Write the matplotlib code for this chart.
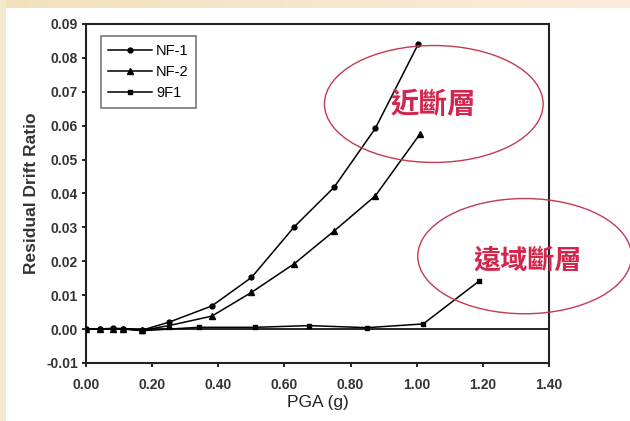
import matplotlib.pyplot as plt
import numpy as np
from matplotlib.patches import Ellipse

# data
nf1_x = [0.0, 0.04, 0.08, 0.11, 0.17, 0.25, 0.38, 0.50, 0.63, 0.75, 0.875, 1.005]
nf1_y = [0.0, 0.0, 0.0002, 0.0001, -0.0003, 0.002, 0.0068, 0.0152, 0.0302, 0.0418, 0.0592, 0.0841]
nf2_x = [0.0, 0.04, 0.08, 0.11, 0.17, 0.25, 0.38, 0.50, 0.63, 0.75, 0.875, 1.01]
nf2_y = [0.0, 0.0, 0.0001, 0.0001, -0.0004, 0.001, 0.0038, 0.0108, 0.0193, 0.0289, 0.0393, 0.0575]
f91_x = [0.0, 0.04, 0.08, 0.11, 0.17, 0.34, 0.51, 0.675, 0.85, 1.02, 1.19]
f91_y = [0.0, 0.0, 0.0, 0.0, -0.0005, 0.0005, 0.0005, 0.001, 0.0004, 0.0015, 0.0142]

x_ticks = [0.0, 0.2, 0.4, 0.6, 0.8, 1.0, 1.2, 1.4]
y_ticks = [-0.01, 0.0, 0.01, 0.02, 0.03, 0.04, 0.05, 0.06, 0.07, 0.08, 0.09]

near_label = "近斷層"
far_label = "遠域斷層"

plt.rcParams['font.family'] = ['Liberation Sans', 'DejaVu Sans']

fig = plt.figure(figsize=(6.3, 4.21), dpi=100)
fig.patch.set_facecolor('white')

# peach border strips along top and left edges
bg = fig.add_axes([0, 0, 1, 1], zorder=-10)
bg.set_axis_off()
grad = np.linspace(0, 1, 256)
c0 = np.array([0.95, 0.88, 0.74])
c1 = np.array([0.99, 0.92, 0.86])
strip = c0[None, :] * (1 - grad[:, None]) + c1[None, :] * grad[:, None]
bg.imshow(strip[None, :, :], extent=[0, 1, 1 - 8 / 421, 1], aspect='auto', transform=bg.transAxes)
bg.add_patch(plt.Rectangle((0, 0), 6 / 630, 1, color=(0.95, 0.91, 0.80), transform=bg.transAxes, lw=0))
bg.set_xlim(0, 1)
bg.set_ylim(0, 1)

ax = fig.add_axes([0.137, 0.138, 0.734, 0.805])
ax.set_facecolor('white')

ax.axhline(0, color='black', lw=1.2, zorder=2)
ax.plot(nf1_x, nf1_y, '-o', color='black', lw=1.1, ms=3.5, label='NF-1', zorder=3)
ax.plot(nf2_x, nf2_y, '-^', color='black', lw=1.1, ms=4, label='NF-2', zorder=3)
ax.plot(f91_x, f91_y, '-s', color='black', lw=1.1, ms=3.5, label='9F1', zorder=3)

ax.set_xlim(0, 1.4)
ax.set_ylim(-0.01, 0.09)
ax.set_xticks(x_ticks)
ax.set_yticks(y_ticks)
ax.set_xticklabels([f"{v:.2f}" for v in x_ticks], fontsize=10, fontweight='bold', color='#333333')
ax.set_yticklabels([f"{v:.2f}" for v in y_ticks], fontsize=10, fontweight='bold', color='#333333')
ax.tick_params(axis='x', direction='out', length=3, width=1.2, pad=8)
ax.tick_params(axis='y', direction='out', length=3, width=1.2, pad=3)
for s in ax.spines.values():
    s.set_linewidth(1.5)
    s.set_color('#222222')

ax.set_xlabel('PGA (g)', fontsize=12.5, color='#222222', labelpad=2)
ax.set_ylabel('Residual Drift Ratio', fontsize=12.5, fontweight='bold', color='#333333', labelpad=5)

leg = ax.legend(loc='upper left', bbox_to_anchor=(0.015, 0.985), fontsize=10.5, frameon=True,
                fancybox=False, edgecolor='#555555', handlelength=3, borderpad=0.5,
                labelspacing=0.5, handletextpad=0.3)
leg.get_frame().set_linewidth(1.2)

red = '#d4264d'
cjk = ['Noto Sans CJK TC', 'DejaVu Sans']
ax.add_patch(Ellipse((1.052, 0.0664), 0.662, 0.0345, fill=False, edgecolor='#c23a55', lw=1.0, zorder=4))
ax.add_patch(Ellipse((1.327, 0.0215), 0.647, 0.034, fill=False, edgecolor='#c23a55', lw=1.0,
                     zorder=4, clip_on=False))
ax.text(1.05, 0.0662, near_label, color=red, fontsize=20.5, fontweight='bold',
        family=cjk, ha='center', va='center', zorder=5)
ax.text(1.335, 0.0202, far_label, color=red, fontsize=19.5, fontweight='bold',
        family=cjk, ha='center', va='center', zorder=5, clip_on=False)

fig.savefig('out.png', dpi=100)
